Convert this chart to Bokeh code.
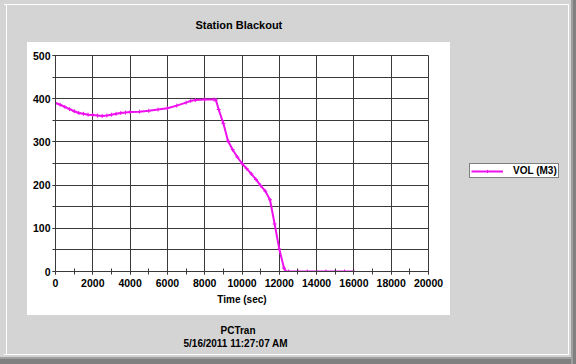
from bokeh.plotting import figure
from bokeh.models import (Title, Legend, LegendItem, FixedTicker, LinearAxis,
                          Range1d, ColumnDataSource)
from bokeh.embed import file_html
from bokeh.resources import INLINE

# ---- data ----
time_s = [0, 250, 500, 750, 1000, 1250, 1500, 1750, 2000, 2250, 2500, 2750, 3000,
          3250, 3500, 3750, 4000, 4500, 5000, 5500, 6000, 6500, 7000, 7250, 7500,
          8000, 8500, 8600, 8750, 9000, 9250, 9500, 9750, 10000, 10250, 10500,
          10750, 11000, 11250, 11500, 11750, 12000, 12250, 12350, 12500, 13000,
          13500, 14000, 14500, 15000, 15500, 16000]
vol_m3 = [390, 386, 381, 376, 371, 367, 365, 363, 362, 361, 360, 361, 363,
          365, 367, 368, 369, 370, 372, 375, 378, 384, 391, 395, 397,
          398, 398, 397, 375, 343, 302, 282, 265, 250, 238, 226,
          213, 199, 186, 166, 110, 52, 8, 0, 0, 0,
          0, 0, 0, 0, 0, 0]
x_ticks = [0, 2000, 4000, 6000, 8000, 10000, 12000, 14000, 16000, 18000, 20000]
y_ticks = [0, 100, 200, 300, 400, 500]
title_text = "Station Blackout"
x_label = "Time (sec)"
series_name = "VOL (M3)"
footer_1 = "PCTran"
footer_2 = "5/16/2011 11:27:07 AM"

FONT = "Liberation Sans"
GRID = "#3a3a3a"
MAG = "#ee11ee"
W, H = 576, 364


def solid(c):
    return f"linear-gradient({c},{c})"


bg = ", ".join([
    solid("#ffffff") + " 27px 42px / 423px 273px no-repeat",   # white panel
    solid("#ffffff") + " 4px 4px / 565px 1px no-repeat",       # light edges
    solid("#ffffff") + " 6px 4px / 1px 351px no-repeat",
    solid("#ffffff") + " 568px 4px / 1px 351px no-repeat",
    solid("#ffffff") + " 4px 354px / 565px 1px no-repeat",
    solid("#a0a0a0") + " 571px 0px / 2px 364px no-repeat",     # dark edges
    solid("#808080") + " 573px 0px / 3px 364px no-repeat",
    solid("#a0a0a0") + " 0px 357px / 576px 2px no-repeat",
    solid("#808080") + " 0px 359px / 576px 5px no-repeat",
    "#d4d4d4",
])

p = figure(width=W, height=H, output_backend="svg", toolbar_location=None,
           frame_width=373, frame_height=216,
           min_border_left=55, min_border_right=148,
           min_border_top=55, min_border_bottom=93,
           x_range=Range1d(0, 20000), y_range=Range1d(0, 500),
           background_fill_color="white", border_fill_color=None,
           outline_line_color=GRID,
           styles={"background": bg})

xa = p.xaxis[0]
ya = p.yaxis[0]


def spacer(n):
    # an invisible axis used only as a gap of n pixels in a side panel
    return LinearAxis(ticker=FixedTicker(ticks=[10000], minor_ticks=[]),
                      major_label_overrides={10000: ""},
                      major_tick_out=n, major_tick_in=0,
                      minor_tick_out=0, minor_tick_in=0,
                      major_label_standoff=0, axis_line_color=None,
                      major_tick_line_color="white", major_tick_line_alpha=0.004,
                      minor_tick_line_color=None, axis_label=None)


def text_title(txt, size, offset):
    return Title(text=txt, text_font=FONT, text_font_style="bold",
                 text_font_size=size, text_color="black",
                 align="left", offset=offset, standoff=0)


# axes
xa.ticker = FixedTicker(ticks=x_ticks, minor_ticks=list(range(0, 20001, 1000)))
ya.ticker = FixedTicker(ticks=y_ticks, minor_ticks=list(range(0, 501, 50)))
for ax in (xa, ya):
    ax.axis_line_color = GRID
    ax.major_tick_line_color = GRID
    ax.minor_tick_line_color = GRID
    ax.major_label_text_font = FONT
    ax.major_label_text_font_style = "bold"
    ax.major_label_text_font_size = "10.5px"
    ax.major_label_text_color = "black"
    ax.major_tick_in = 3
    ax.major_tick_out = 3
    ax.minor_tick_in = 3
    ax.minor_tick_out = 3
ya.major_label_standoff = 2
xa.major_label_standoff = 4
xa.axis_label = x_label
xa.axis_label_text_font = FONT
xa.axis_label_text_font_style = "bold"
xa.axis_label_text_font_size = "10px"
xa.axis_label_text_color = "black"
xa.axis_label_standoff = 4

p.xgrid.grid_line_color = GRID
p.ygrid.grid_line_color = GRID
p.ygrid.minor_grid_line_color = GRID

# title (above the plot)
p.add_layout(spacer(25), "above")
p.add_layout(text_title(title_text, "11px", 140), "above")

# footer (below the x axis)
p.add_layout(spacer(15), "below")
p.add_layout(text_title(footer_1, "10px", 165), "below")
p.add_layout(text_title(footer_2, "10px", 128), "below")

src = ColumnDataSource(dict(t=time_s, v=vol_m3))
ln = p.line("t", "v", source=src, line_color=MAG, line_width=2)
sc = p.scatter("t", "v", source=src, marker="cross", size=4, line_color=MAG,
               line_width=1)

legend = Legend(items=[LegendItem(label=series_name, renderers=[ln, sc])],
                location=(41, 93), orientation="vertical",
                label_text_font=FONT, label_text_font_style="bold",
                label_text_font_size="10px", label_text_color="black",
                glyph_height=8, glyph_width=32, label_height=8,
                label_standoff=10, padding=1, margin=0, spacing=0,
                border_line_color="black", border_line_width=1.5,
                background_fill_color="white", background_fill_alpha=1)
p.add_layout(legend, "right")

open("out.html", "w").write(file_html(p, INLINE))
